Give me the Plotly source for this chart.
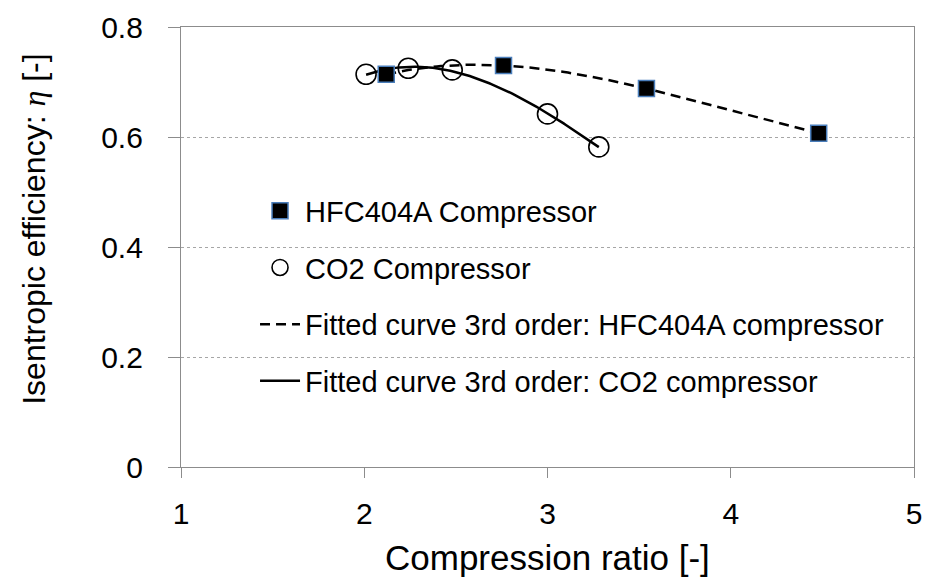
import numpy as np
import plotly.graph_objects as go

# Measured compressor data: compression ratio vs isentropic efficiency
hfc_ratio = [2.12, 2.76, 3.54, 4.48]
hfc_eff = [0.714, 0.730, 0.688, 0.607]
co2_ratio = [2.01, 2.24, 2.48, 3.00, 3.28]
co2_eff = [0.714, 0.725, 0.722, 0.642, 0.582]

x_ticks = [1, 2, 3, 4, 5]
y_ticks = [0, 0.2, 0.4, 0.6, 0.8]
y_tick_text = ["0", "0.2", "0.4", "0.6", "0.8"]

FONT = "Liberation Sans, Arial, sans-serif"


def cubic_fit(x, y, n=120):
    coeffs = np.polyfit(x, y, 3)
    xs = np.linspace(min(x), max(x), n)
    return xs, np.polyval(coeffs, xs)


hfc_fx, hfc_fy = cubic_fit(hfc_ratio, hfc_eff)
co2_fx, co2_fy = cubic_fit(co2_ratio, co2_eff)

fig = go.Figure()

# fitted curves underneath the markers
fig.add_trace(go.Scatter(
    x=hfc_fx, y=hfc_fy, mode="lines",
    line=dict(color="black", width=2.5, dash="10px,6px"),
    name="Fitted curve 3rd order: HFC404A compressor",
    legendrank=3, legendgroup="c",
))
fig.add_trace(go.Scatter(
    x=co2_fx, y=co2_fy, mode="lines",
    line=dict(color="black", width=2.5),
    name="Fitted curve 3rd order: CO2 compressor",
    legendrank=4, legendgroup="d",
))
fig.add_trace(go.Scatter(
    x=co2_ratio, y=co2_eff, mode="markers",
    marker=dict(symbol="circle-open", size=20, color="black",
                line=dict(width=1.6, color="black")),
    name="CO2 Compressor",
    legendrank=2, legendgroup="b",
))
fig.add_trace(go.Scatter(
    x=hfc_ratio, y=hfc_eff, mode="markers",
    marker=dict(symbol="square", size=16, color="black",
                line=dict(width=1.5, color="#4a7ebb")),
    name="HFC404A Compressor",
    legendrank=1, legendgroup="a",
))

axis_color = "#8c8c8c"

fig.update_layout(
    width=926, height=582,
    margin=dict(l=181, r=12, t=27, b=115),
    paper_bgcolor="white", plot_bgcolor="white",
    font=dict(family=FONT, color="black"),
    showlegend=True,
    legend=dict(
        x=0.101, y=0.64, xanchor="left", yanchor="top",
        font=dict(size=29, family=FONT),
        bgcolor="rgba(0,0,0,0)",
        traceorder="grouped", tracegroupgap=16,
        itemwidth=40,
    ),
    xaxis=dict(
        range=[1, 5], tickvals=x_ticks, ticktext=[str(v) for v in x_ticks],
        showgrid=False, zeroline=False,
        showline=True, linecolor=axis_color, linewidth=1.3, mirror=True,
        ticks="outside", ticklen=10, tickcolor=axis_color,
        tickfont=dict(size=30, family=FONT),
        ticklabelstandoff=10,
        automargin=False,
    ),
    yaxis=dict(
        range=[0, 0.8], tickvals=y_ticks, ticktext=y_tick_text,
        showgrid=True, gridcolor="#a6a6a6", gridwidth=1, griddash="3px,3px",
        zeroline=False,
        showline=True, linecolor=axis_color, linewidth=1.3, mirror=True,
        ticks="outside", ticklen=12, tickcolor=axis_color,
        tickfont=dict(size=30, family=FONT),
        ticklabelstandoff=19,
        automargin=False,
    ),
    annotations=[
        dict(
            text="Compression ratio [-]",
            xref="paper", yref="paper", x=0.5, y=-0.205,
            xanchor="center", yanchor="middle",
            showarrow=False, font=dict(size=35, family=FONT),
        ),
        dict(
            text='Isentropic efficiency: <span style="font-family:Liberation Serif, Times New Roman, serif;font-style:italic">η</span> [-]',
            xref="paper", yref="paper", x=-0.2, y=0.54,
            xanchor="center", yanchor="middle", textangle=-90,
            showarrow=False, font=dict(size=32, family=FONT),
        ),
    ],
)

fig.write_html("out.html")
